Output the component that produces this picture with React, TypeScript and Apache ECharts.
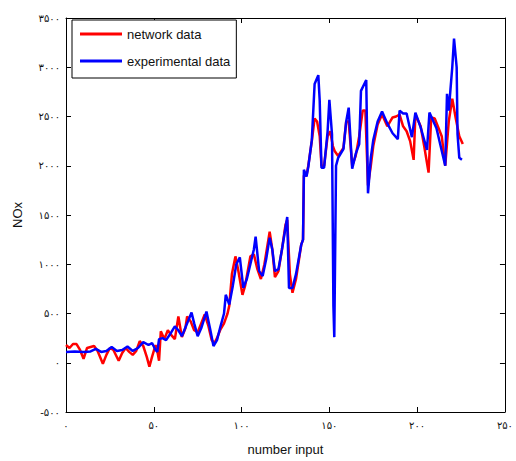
import React, { useEffect, useRef } from "react";
import * as echarts from "echarts";

// [number input, NOx]
const networkPoints: [number, number][] = [
  [0, 180], [2, 150], [4, 190], [6, 190], [8, 130], [10, 40], [12, 150], [14, 160], [16, 170], [18, 120],
  [21, -10], [23, 80], [25, 150], [27, 130], [30, 20], [32, 100], [34, 150], [36, 110], [38, 80], [40, 120],
  [42, 220], [44, 170], [46, 60], [47.5, -40], [49, 60], [51, 180], [52, 120], [53, 20], [54, 320], [56, 240],
  [58, 330], [60, 280], [62, 240], [64, 470], [66, 260], [68, 350], [69, 470], [71, 420], [73, 330], [75, 310],
  [77, 400], [79, 490], [81, 380], [83, 230], [84.5, 200], [86, 250], [88, 340], [90, 400], [92, 500], [93, 580],
  [94.5, 900], [96.5, 1080], [98, 950], [100.5, 690], [102, 780], [105, 1080], [107, 1100], [109, 950], [111, 850], [113, 1000],
  [116, 1330], [117.5, 1150], [119, 870], [121, 930], [123, 1150], [125, 1400], [126, 1450], [127.5, 900], [129, 710], [131, 850],
  [134, 1200], [135, 1250], [135.5, 1900], [137, 1900], [138, 2000], [140, 2250], [141.6, 2480], [143, 2450], [144.5, 2300], [145.5, 2000],
  [147, 2000], [149, 2300], [150.5, 2350], [152, 2200], [153, 2150], [155, 2100], [158, 2180], [159.6, 2450], [161, 2450], [163, 2000],
  [165, 2100], [167, 2300], [169, 2560], [170.5, 2560], [172, 1800], [173.6, 2000], [175, 2200], [177.5, 2420], [180, 2520], [183, 2400],
  [186, 2490], [188, 2500], [190, 2520], [192, 2400], [194, 2350], [196, 2250], [198, 2060], [199, 2520], [202, 2400], [204, 2200],
  [206.5, 1930], [208, 2490], [210, 2480], [212, 2390], [214, 2300], [216, 2000], [218, 2450], [220, 2680], [222, 2480], [224, 2300],
  [226, 2220],
];

const experimentalPoints: [number, number][] = [
  [0, 110], [5, 115], [10, 110], [14, 115], [17, 140], [20, 110], [23, 120], [26, 160], [29, 120], [32, 130],
  [35, 165], [38, 120], [41, 150], [44, 210], [47, 180], [49, 200], [51, 130], [52, 110], [53, 240], [55, 250],
  [57, 230], [60, 310], [62, 370], [64, 330], [66, 270], [69, 400], [71.5, 510], [73, 400], [75, 270], [77, 350],
  [80, 520], [82, 350], [84, 170], [86, 230], [88, 370], [90, 500], [91, 690], [93, 590], [95, 780], [97, 1000],
  [99, 1070], [101, 760], [103, 850], [105, 1000], [107, 1150], [108, 1280], [110, 930], [112, 880], [114, 1050], [116, 1270],
  [117.5, 1150], [119, 930], [121, 950], [123, 1150], [126, 1480], [127, 760], [129, 760], [131, 900], [134, 1200], [135, 1250],
  [135.5, 1960], [137, 1890], [138, 1990], [140, 2260], [141.6, 2830], [143.7, 2920], [144.5, 2660], [145.5, 1980], [147, 1980], [149, 2350],
  [150, 2670], [151.5, 2320], [152.3, 580], [152.8, 260], [153.8, 2000], [155, 2080], [158, 2170], [159.6, 2450], [161, 2590], [163, 1970],
  [165, 2120], [167, 2220], [168, 2760], [171, 2870], [172, 1720], [173.6, 2080], [175, 2260], [177.5, 2450], [180, 2550], [183, 2430],
  [186, 2330], [189, 2270], [190, 2560], [192, 2530], [194, 2530], [197, 2290], [199, 2540], [202, 2390], [205.6, 2160], [207, 2540],
  [211, 2380], [216, 2000], [217, 2730], [218, 2560], [219, 2780], [220, 3000], [221, 3290], [222.5, 3000], [223, 2320], [224, 2080],
  [225.5, 2060],
];

const xTicks = { min: 0, max: 250, interval: 50 };
const yTicks = { min: -500, max: 3500, interval: 500 };

const seriesNames = ["network data", "experimental data"];
const xName = "number input";
const yName = "NOx";

const persianDigits = "۰۱۲۳۴۵۶۷۸۹";
const toPersian = (v: number) => String(v).replace(/\d/g, (d) => persianDigits[+d]);

export default function App() {
  const ref = useRef<HTMLDivElement>(null);
  useEffect(() => {
    if (!ref.current) return;
    const chart = echarts.init(ref.current, undefined, { renderer: "svg" });
    const labelStyle = {
      color: "#111",
      fontSize: 10,
      fontFamily: "DejaVu Sans",
    };
    const tickStyle = { show: true, inside: true, length: 5, lineStyle: { color: "#000", width: 1 } };
    const axisLine = { show: true, onZero: false, lineStyle: { color: "#000", width: 1 } };
    chart.setOption({
      animation: false,
      backgroundColor: "#fff",
      grid: { left: 66, top: 18, width: 445, height: 396, show: false },
      legend: {
        left: 72,
        top: 20,
        orient: "vertical",
        data: seriesNames,
        icon: "rect",
        itemWidth: 42,
        itemHeight: 3,
        itemGap: 13,
        padding: [7, 6, 10, 8],
        borderColor: "#000",
        borderWidth: 1,
        backgroundColor: "#fff",
        textStyle: { fontSize: 13, fontFamily: "Liberation Sans", color: "#111", lineHeight: 14, padding: [0, 0, 0, 0] },
      },
      xAxis: [
        {
          type: "value",
          ...xTicks,
          position: "bottom",
          name: xName,
          nameLocation: "middle",
          nameGap: 31,
          nameTextStyle: { fontSize: 13, fontFamily: "Liberation Sans", color: "#111" },
          axisLine,
          axisTick: tickStyle,
          axisLabel: { ...labelStyle, margin: 8, formatter: (v: number) => toPersian(v) },
          splitLine: { show: false },
        },
        {
          type: "value",
          ...xTicks,
          position: "top",
          axisLine,
          axisTick: tickStyle,
          axisLabel: { show: false },
          splitLine: { show: false },
        },
      ],
      yAxis: [
        {
          type: "value",
          ...yTicks,
          position: "left",
          name: yName,
          nameLocation: "middle",
          nameRotate: 90,
          nameGap: 42,
          nameTextStyle: { fontSize: 13, fontFamily: "Liberation Sans", color: "#111" },
          axisLine,
          axisTick: tickStyle,
          axisLabel: { ...labelStyle, margin: 6, formatter: (v: number) => toPersian(v) },
          splitLine: { show: false },
        },
        {
          type: "value",
          ...yTicks,
          position: "right",
          axisLine,
          axisTick: tickStyle,
          axisLabel: { show: false },
          splitLine: { show: false },
        },
      ],
      series: [
        {
          name: seriesNames[0],
          type: "line",
          data: networkPoints,
          showSymbol: false,
          symbol: "none",
          lineStyle: { color: "#ff0000", width: 2.5 },
          itemStyle: { color: "#ff0000" },
          xAxisIndex: 0,
          yAxisIndex: 0,
        },
        {
          name: seriesNames[1],
          type: "line",
          data: experimentalPoints,
          showSymbol: false,
          symbol: "none",
          lineStyle: { color: "#0000ff", width: 2.5 },
          itemStyle: { color: "#0000ff" },
          xAxisIndex: 0,
          yAxisIndex: 0,
        },
      ],
    });
    return () => chart.dispose();
  }, []);
  return (
    <div
      ref={ref}
      style={{ position: "fixed", left: 0, top: 0, width: 516, height: 461, background: "#fff" }}
    />
  );
}
